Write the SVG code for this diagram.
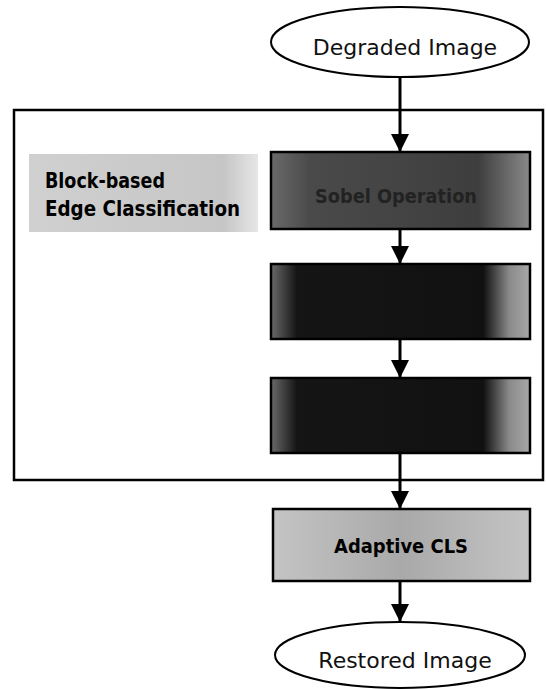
<svg xmlns="http://www.w3.org/2000/svg" width="546" height="689" viewBox="0 0 546 689">
<style>
.term{fill:#fff;stroke:#000;stroke-width:2}
.termtxt{font-family:"DejaVu Sans",Verdana,sans-serif;font-size:22px;fill:#111}
.box{stroke:#000;stroke-width:2.5}
.btxt{font-family:"DejaVu Sans",Verdana,sans-serif;font-weight:bold;fill:#000}
.conn{stroke:#000;stroke-width:3;fill:none}
</style>
<defs>
<marker id="ah" markerUnits="userSpaceOnUse" markerWidth="18" markerHeight="18" refX="18" refY="9" orient="auto" viewBox="0 0 18 18">
<path d="M0,0 L18,9 L0,18 z" fill="#000"/>
</marker>
<linearGradient id="g1" x1="0" y1="0" x2="1" y2="0">
<stop offset="0" stop-color="#6a6a6a"/>
<stop offset="0.15" stop-color="#4a4a4a"/>
<stop offset="0.8" stop-color="#3e3e3e"/>
<stop offset="1" stop-color="#8a8a8a"/>
</linearGradient>
<linearGradient id="g2" x1="0" y1="0" x2="1" y2="0">
<stop offset="0" stop-color="#6a6a6a"/>
<stop offset="0.1" stop-color="#151515"/>
<stop offset="0.82" stop-color="#111"/>
<stop offset="0.92" stop-color="#8a8a8a"/>
<stop offset="1" stop-color="#a8a8a8"/>
</linearGradient>
<linearGradient id="g3" x1="0" y1="0" x2="1" y2="0">
<stop offset="0" stop-color="#c4c4c4"/>
<stop offset="0.5" stop-color="#a9a9a9"/>
<stop offset="1" stop-color="#c4c4c4"/>
</linearGradient>
<linearGradient id="glab" x1="0" y1="0" x2="1" y2="0">
<stop offset="0" stop-color="#d0d0d0"/>
<stop offset="0.85" stop-color="#c6c6c6"/>
<stop offset="1" stop-color="#e6e6e6"/>
</linearGradient>
</defs>

<g id="group-frame">
<rect x="14" y="110" width="529" height="370" fill="none" stroke="#000" stroke-width="2.5"/>
</g>

<g id="label-block">
<rect x="29" y="154" width="229" height="78" fill="url(#glab)"/>
<text class="btxt" x="45" y="188" font-size="22" textLength="120" lengthAdjust="spacingAndGlyphs">Block-based</text>
<text class="btxt" x="45" y="216" font-size="22" textLength="195" lengthAdjust="spacingAndGlyphs">Edge Classification</text>
</g>

<g id="node-degraded">
<ellipse class="term" cx="400" cy="42" rx="129" ry="35"/>
<text class="termtxt" x="405" y="55" text-anchor="middle">Degraded Image</text>
</g>

<g id="node-sobel">
<rect class="box" x="271" y="152" width="259" height="77" fill="url(#g1)"/>
<text class="btxt" x="396" y="203" font-size="20" text-anchor="middle" fill="#222" style="fill:#222" textLength="162" lengthAdjust="spacingAndGlyphs">Sobel Operation</text>
</g>

<g id="node-step2">
<rect class="box" x="271" y="264" width="259" height="75" fill="url(#g2)"/>
</g>

<g id="node-step3">
<rect class="box" x="271" y="378" width="259" height="75" fill="url(#g2)"/>
</g>

<g id="node-cls">
<rect class="box" x="273" y="509" width="257" height="72" fill="url(#g3)"/>
<text class="btxt" x="401" y="553" font-size="20" text-anchor="middle" textLength="134" lengthAdjust="spacingAndGlyphs">Adaptive CLS</text>
</g>

<g id="node-restored">
<ellipse class="term" cx="400" cy="655" rx="125" ry="33"/>
<text class="termtxt" x="405" y="668" text-anchor="middle">Restored Image</text>
</g>

<g id="connectors">
<line class="conn" x1="400" y1="77" x2="400" y2="152" marker-end="url(#ah)"/>
<line class="conn" x1="400" y1="229" x2="400" y2="264" marker-end="url(#ah)"/>
<line class="conn" x1="400" y1="339" x2="400" y2="378" marker-end="url(#ah)"/>
<line class="conn" x1="400" y1="453" x2="400" y2="509" marker-end="url(#ah)"/>
<line class="conn" x1="400" y1="581" x2="400" y2="622" marker-end="url(#ah)"/>
</g>
</svg>
